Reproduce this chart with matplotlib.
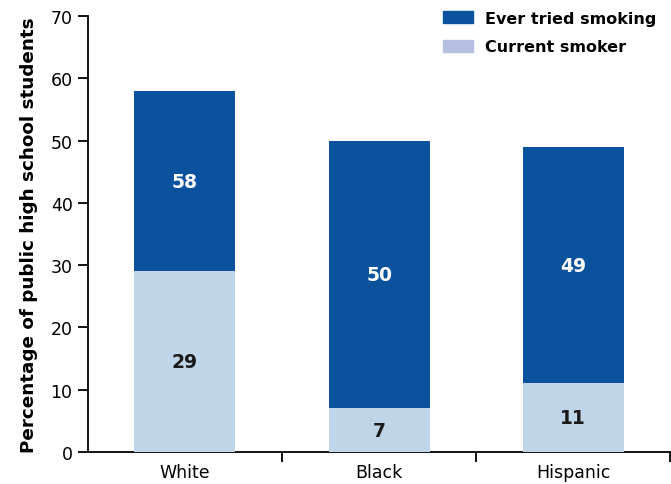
import matplotlib
matplotlib.use('Agg')
import matplotlib.pyplot as plt
from matplotlib.patches import Patch

groups = ['White', 'Black', 'Hispanic']
ever_tried = [58, 50, 49]
current = [29, 7, 11]

dark_blue = '#0a519e'
light_blue = '#bfd5e9'
legend_light = '#b5c0e0'

fig = plt.figure(figsize=(6.71, 4.85), dpi=100)
ax = fig.add_axes([0.131, 0.066, 0.868, 0.899])

x = range(len(groups))
width = 0.52
ax.bar(x, ever_tried, width=width, color=dark_blue, zorder=2)
ax.bar(x, current, width=width, color=light_blue, zorder=3)

# value labels centred in each segment
for i, (e, c) in enumerate(zip(ever_tried, current)):
    ax.text(i, (e + c) / 2, str(e), color='white', ha='center', va='center',
            fontsize=13.5, fontweight='bold', zorder=4)
    ax.text(i, c / 2, str(c), color='#1a1a1a', ha='center', va='center',
            fontsize=13.5, fontweight='bold', zorder=4)

ax.set_xlim(-0.5, 2.5)
ax.set_ylim(0, 70)
ax.set_yticks(range(0, 71, 10))
ax.set_xticks(list(x))
ax.set_xticklabels(groups)
ax.tick_params(axis='x', which='major', length=0, labelsize=12.5, pad=8)
ax.set_xticks([0.5, 1.5, 2.5], minor=True)
ax.tick_params(axis='x', which='minor', length=7, width=1.3, direction='out')
ax.tick_params(axis='y', length=7, width=1.3, labelsize=12.5, pad=4)

for s in ['top', 'right']:
    ax.spines[s].set_visible(False)
for s in ['left', 'bottom']:
    ax.spines[s].set_linewidth(1.3)

ax.set_ylabel('Percentage of public high school students', fontsize=13.2,
              fontweight='bold', labelpad=9)

handles = [Patch(color=dark_blue, label='Ever tried smoking'),
           Patch(color=legend_light, label='Current smoker')]
leg = ax.legend(handles=handles, loc='upper right', frameon=False,
                bbox_to_anchor=(1.0, 1.045), handlelength=1.9, handleheight=0.75,
                handletextpad=0.7, prop={'weight': 'bold', 'size': 11.5},
                labelspacing=0.85)

plt.savefig('out.png', dpi=100)
